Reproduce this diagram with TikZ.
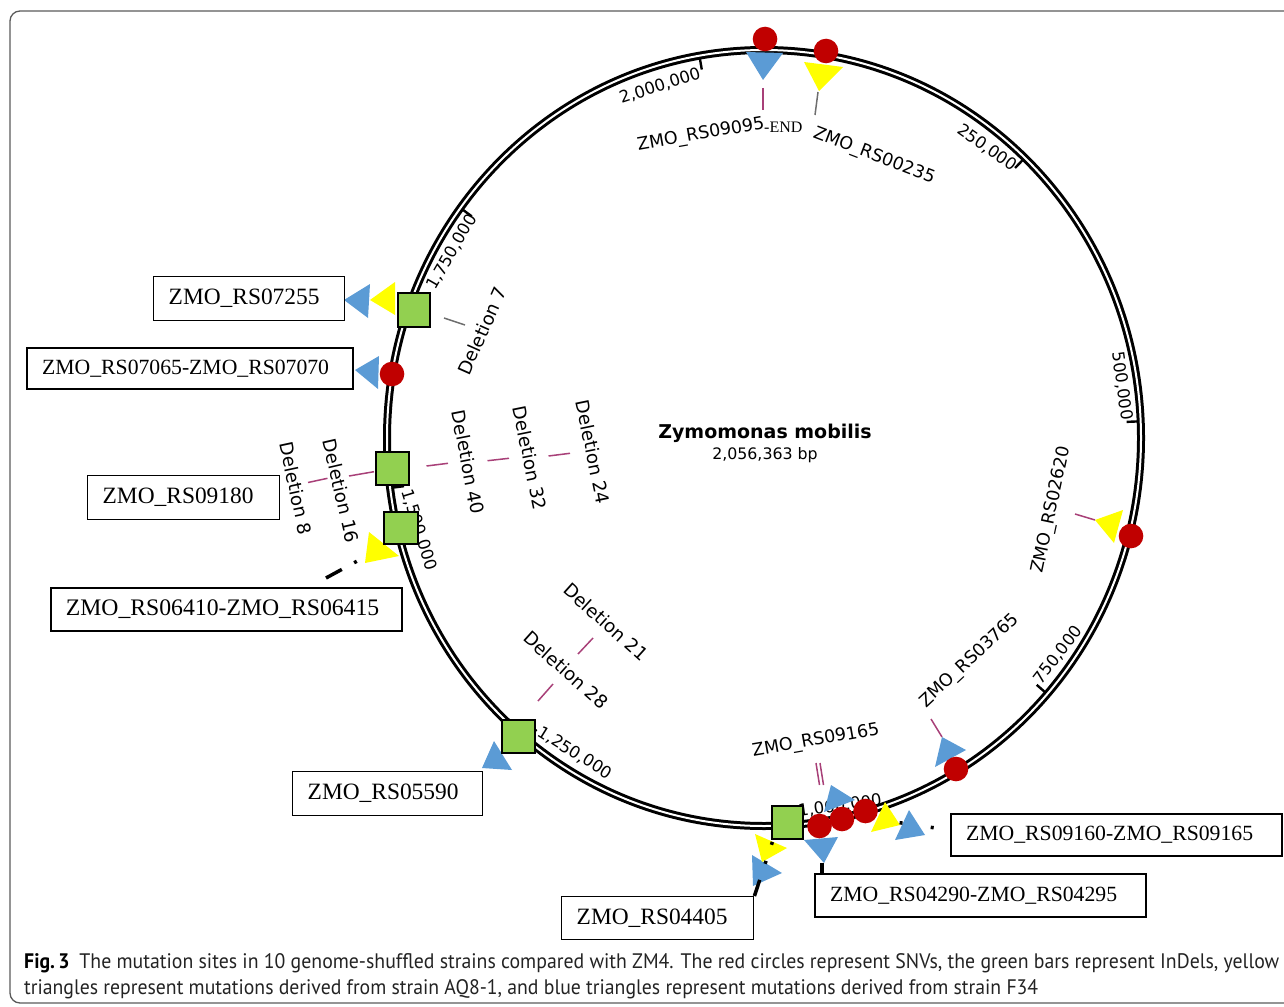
\documentclass[tikz,border=0pt]{standalone}
\usepackage{fontspec}
\usepackage{graphicx}
\setmainfont{Liberation Serif}
\newfontfamily\labfont{DejaVu Sans}
\newfontfamily\capfont{PT Sans}
\definecolor{snv}{RGB}{192,0,0}
\definecolor{yel}{RGB}{255,255,0}
\definecolor{blu}{RGB}{91,155,213}
\definecolor{grn}{RGB}{146,208,80}
\definecolor{pnk}{RGB}{168,64,120}
\definecolor{gry}{RGB}{110,110,110}
\definecolor{frm}{RGB}{90,90,90}
\definecolor{captxt}{RGB}{35,35,35}
\tikzset{
  ring/.style={draw=black, line width=3pt, double=white, double distance=2pt},
  tickline/.style={line width=2.4pt},
  ticklab/.style={font=\labfont\fontsize{16.5}{18}\selectfont, inner sep=0pt},
  genelab/.style={font=\labfont\fontsize{17.5}{19}\selectfont, inner sep=0pt},
  dellab/.style={font=\labfont\fontsize{18.3}{20}\selectfont, inner sep=0pt},
  pinkln/.style={draw=pnk, line width=1.5pt},
  grayln/.style={draw=gry, line width=1.5pt},
  snvdot/.style={fill=snv},
  indel/.style={draw=black, line width=1.5pt, fill=grn},
  lead/.style={draw=black, line width=3.5pt},
  genebox/.style={draw=black, fill=white, line width=1.4pt, anchor=north west,
    font=\fontsize{23.4}{25}\selectfont, inner xsep=15pt, inner ysep=0pt, align=left},
  thickbox/.style={genebox, line width=2.3pt, font=\fontsize{21.7}{24}\selectfont},
}
\begin{document}
\begin{tikzpicture}[x=1pt,y=-1pt]
\useasboundingbox (0,0) rectangle (1284,1006);
\clip (0,0) rectangle (1284,1006);
% frame
\draw[frm, line width=1.3pt, rounded corners=10pt] (10,11) rectangle (1320,1003);
% ring
\draw[ring] (764,438) ellipse [x radius=377, y radius=388];
% ticks
\foreach \a in {43.77,87.53,131.30,175.06,218.83,262.60,306.36,350.13}
  \draw[tickline] ({764+374*sin(\a)},{438-385*cos(\a)}) -- ({764+363*sin(\a)},{438-374*cos(\a)});
% tick labels
\node[ticklab, rotate=18]  (t0) at (660,86)  {2,000,000};
\node[ticklab, rotate=-35] (t1) at (987,148) {250,000};
\node[ticklab, rotate=-82] (t2) at (1122,386) {500,000};
\node[ticklab, rotate=52]  (t3) at (1058,655) {750,000};
\node[ticklab, rotate=8]   (t4) at (840,806) {1,000,000};
\node[ticklab, rotate=-32] (t5) at (575,753) {1,250,000};
\node[ticklab, rotate=-73] (t6) at (419,530) {1,500,000};
\node[ticklab, rotate=60]  (t7) at (452,252) {1,750,000};
% centre
\node[anchor=base, font=\labfont\bfseries\fontsize{19}{21}\selectfont, inner sep=0pt] (title) at (765,438) {Zymomonas mobilis};
\node[anchor=base, font=\labfont\fontsize{15.8}{17}\selectfont, inner sep=0pt] (size) at (765,459) {2,056,363 bp};
% gene labels
\node[genelab, rotate=10]  (g9095) at (701,135) {ZMO\_RS09095};
\node[anchor=base west, font=\fontsize{16}{18}\selectfont, inner sep=0pt] (gend) at (764,132.5) {-END};
\node[genelab, rotate=-21] (g0235) at (874,156) {ZMO\_RS00235};
\node[genelab, rotate=78]  (g2620) at (1052,510) {ZMO\_RS02620};
\node[genelab, rotate=43]  (g3765) at (970,661) {ZMO\_RS03765};
\node[genelab, rotate=10]  (g9165) at (816,741) {ZMO\_RS09165};
% deletion labels
\node[dellab, rotate=66]  (d7)  at (482,331) {Deletion 7};
\node[dellab, rotate=-78] (d8)  at (296,488) {Deletion 8};
\node[dellab, rotate=-77] (d16) at (341,491) {Deletion 16};
\node[dellab, rotate=-79] (d40) at (468,462) {Deletion 40};
\node[dellab, rotate=-78.6] (d32) at (530,458) {Deletion 32};
\node[dellab, rotate=-78.4] (d24) at (593,452) {Deletion 24};
\node[dellab, rotate=-42] (d21) at (606,622) {Deletion 21};
\node[dellab, rotate=-42] (d28) at (566,670) {Deletion 28};
% leader ticks
\draw[pinkln] (763,88) -- (763,110);
\draw[grayln] (818,92) -- (815,115);
\draw[pinkln] (1075,514) -- (1095,520);
\draw[pinkln] (931,719) -- (942,737);
\draw[pinkln] (816,763) -- (819.5,785);
\draw[pinkln] (820,763) -- (823.5,785);
\draw[grayln] (444,318) -- (465,325);
\draw[pinkln] (308,482.5) -- (327.5,478.3);
\draw[pinkln] (349,476) -- (374,471.7);
\draw[pinkln] (426.5,466) -- (448,463.3);
\draw[pinkln] (487.5,460.7) -- (509,458.3);
\draw[pinkln] (548.5,456) -- (570,453.3);
\draw[pinkln] (578,654) -- (593,638);
\draw[pinkln] (538,701) -- (553,684);
% blue triangles (F34)
\fill[blu] (746,52) -- (783,53) -- (763,80) -- cycle;
\fill[blu] (344,300) -- (370,284) -- (368,318) -- cycle;
\fill[blu] (355,370) -- (379,356) -- (378,389) -- cycle;
\fill[blu] (942,737) -- (966,750) -- (935,767) -- cycle;
\fill[blu] (494,741) -- (512,770) -- (482,768) -- cycle;
\fill[blu] (831,785) -- (855,800) -- (824,812) -- cycle;
\fill[blu] (909,810) -- (925,835) -- (895,840) -- cycle;
\fill[blu] (804,840) -- (838,837) -- (824,863) -- cycle;
\fill[blu] (752,855) -- (782,873) -- (753,886) -- cycle;
% yellow triangles (AQ8-1)
\fill[yel] (804,62) -- (843,67) -- (819,91) -- cycle;
\fill[yel] (1095,520) -- (1123,510) -- (1114,543) -- cycle;
\fill[yel] (370,300) -- (395,282) -- (395,315) -- cycle;
\fill[yel] (369,532) -- (399,556) -- (365,563) -- cycle;
\fill[yel] (755,834) -- (787,848) -- (762,862) -- cycle;
% SNVs
\foreach \p in {(765,39),(826,51),(1131,536),(956,769),(392,374),(819.5,826),(842,819),(865.5,811)}
  \fill[snvdot] \p circle (12.3);
\fill[yel] (885,802) -- (900,825) -- (871,832) -- cycle;
% InDels
\draw[indel] (398,293) rectangle (430,327);
\draw[indel] (376,452) rectangle (409,485);
\draw[indel] (384,512) rectangle (418,544);
\draw[indel] (502,720) rectangle (535,753);
\draw[indel] (772,806) rectangle (803,839);
% boxes
\node[genebox, text width=161pt, minimum height=44pt] (b7255) at (153,276) {ZMO\_RS07255};
\node[thickbox, text width=296pt, minimum height=41pt] (b7065) at (26,347) {ZMO\_RS07065-ZMO\_RS07070};
\node[genebox, text width=162pt, minimum height=44pt] (b9180) at (87,475) {ZMO\_RS09180};
\node[genebox, line width=1.8pt, font=\fontsize{23.7}{25}\selectfont, text width=321pt, minimum height=43pt] (b6410) at (50,587) {ZMO\_RS06410-ZMO\_RS06415};
\node[genebox, text width=160pt, minimum height=44pt] (b5590) at (292,771) {ZMO\_RS05590};
\node[genebox, text width=162pt, minimum height=43pt] (b4405) at (561,896) {ZMO\_RS04405};
\node[thickbox, text width=301pt, minimum height=42pt] (b9160) at (950,813) {ZMO\_RS09160-ZMO\_RS09165};
\node[thickbox, text width=301pt, minimum height=43pt] (b4290) at (814,873) {ZMO\_RS04290-ZMO\_RS04295};
% leaders
\coordinate (l6410) at (326,578);
\coordinate (e6410) at (372,553);
\draw[lead, dash pattern=on 18pt off 14pt on 3pt off 200pt] (l6410) -- (e6410);
\coordinate (e4405) at (778,825);
\draw[lead, dash pattern=on 17pt off 17pt on 3pt off 17pt on 3pt off 200pt] (b4405.north east) -- (e4405);
\coordinate (s4290) at ([xshift=8pt]b4290.north west);
\coordinate (e4290) at (822,845);
\draw[lead, dash pattern=on 10pt off 200pt] (s4290) -- (e4290);
\coordinate (s9160) at ([yshift=5pt]b9160.west);
\coordinate (e9160) at (895,822);
\draw[lead, dash pattern=on 0pt off 16.5pt on 3pt off 28.5pt on 3pt off 200pt] (s9160) -- (e9160);
% caption
\node[anchor=base west, inner sep=0pt, text=captxt] (cap1) at (24,968) {\resizebox{1255pt}{\height}{\capfont\fontsize{21}{24}\selectfont{\bfseries\color{black}Fig.\,3}\hspace{0.5em}The mutation sites in 10 genome-shuffled strains compared with ZM4. The red circles represent SNVs, the green bars represent InDels, yellow}};
\node[anchor=base west, inner sep=0pt, text=captxt] (cap2) at (24,994) {\resizebox{1014pt}{\height}{\capfont\fontsize{21}{24}\selectfont triangles represent mutations derived from strain AQ8-1, and blue triangles represent mutations derived from strain F34}};
\end{tikzpicture}
\end{document}
